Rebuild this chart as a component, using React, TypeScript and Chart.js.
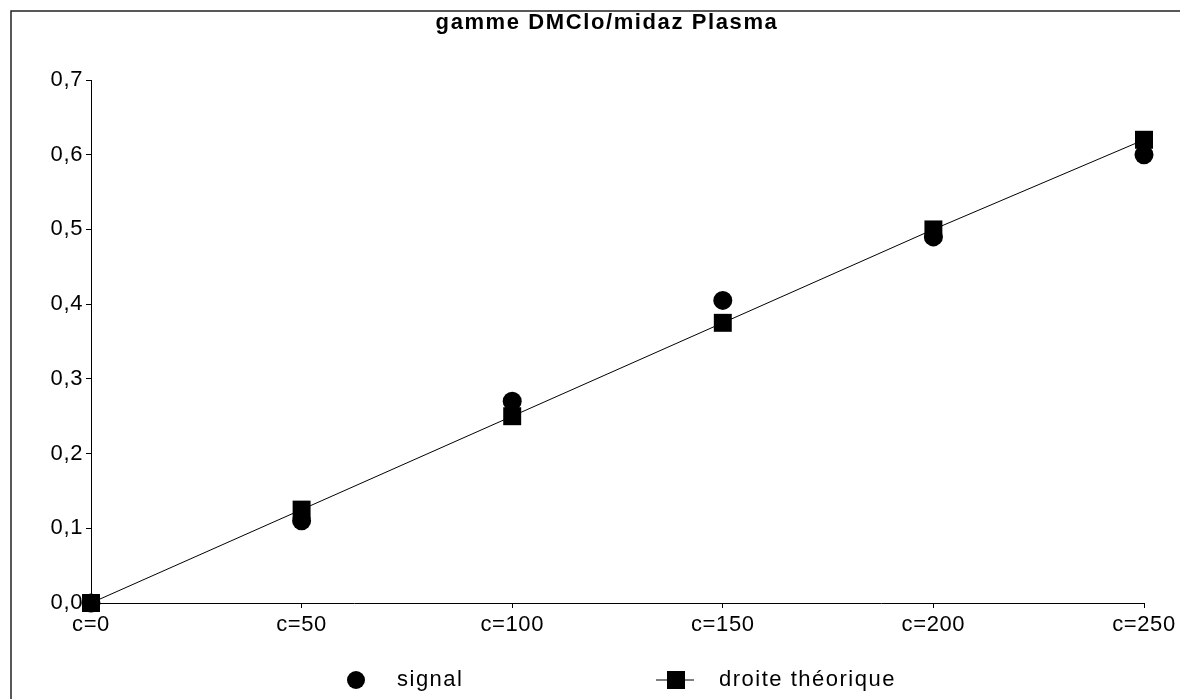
import React, { useEffect, useRef } from "react";
import { Chart, registerables } from "chart.js";

Chart.register(...registerables);

const categories = ["c=0", "c=50", "c=100", "c=150", "c=200", "c=250"];
const signalValues = [0.0, 0.11, 0.27, 0.405, 0.49, 0.6];
const theoryValues = [0.0, 0.125, 0.25, 0.375, 0.5, 0.62];
const yTickMin = 0;
const yTickMax = 0.7;
const yTickStep = 0.1;
const titleText = "gamme DMClo/midaz Plasma";
const FONT = "'Liberation Sans', Arial, sans-serif";

const framePlugin = {
  id: "frame",
  beforeDraw(chart: any) {
    const ctx = chart.ctx;
    ctx.save();
    ctx.fillStyle = "#ffffff";
    ctx.fillRect(0, 0, chart.width, chart.height);
    ctx.strokeStyle = "#222";
    ctx.lineWidth = 1.5;
    ctx.beginPath();
    ctx.moveTo(11, chart.height);
    ctx.lineTo(11, 11);
    ctx.lineTo(chart.width, 11);
    ctx.stroke();
    ctx.restore();
    // slightly wider text, like the original print
    (ctx as any).letterSpacing = "0.6px";
  },
};

const titleLegendPlugin = {
  id: "titleLegend",
  afterDraw(chart: any) {
    const ctx = chart.ctx;
    const cx = chart.width / 2;
    ctx.save();
    // title
    (ctx as any).letterSpacing = "1.6px";
    ctx.fillStyle = "#000";
    ctx.font = `bold 22px ${FONT}`;
    ctx.textAlign = "center";
    ctx.textBaseline = "alphabetic";
    ctx.fillText(titleText, cx + 17, 29);

    // legend
    const cy = chart.height - 19;
    const items = [
      { marker: cx - 234, text: cx - 193 },
      { marker: cx + 86, text: cx + 129 },
    ];
    chart.data.datasets.forEach((ds: any, i: number) => {
      const it = items[i];
      ctx.fillStyle = "#000";
      ctx.strokeStyle = "#000";
      if (ds.showLine !== false) {
        ctx.lineWidth = 1;
        ctx.beginPath();
        ctx.moveTo(it.marker - 20, cy);
        ctx.lineTo(it.marker + 18, cy);
        ctx.stroke();
      }
      if (ds.pointStyle === "circle") {
        ctx.beginPath();
        ctx.arc(it.marker, cy, 9, 0, Math.PI * 2);
        ctx.fill();
      } else {
        ctx.fillRect(it.marker - 9, cy - 9, 18, 18);
      }
      (ctx as any).letterSpacing = "1.5px";
      ctx.font = `22px ${FONT}`;
      ctx.textBaseline = "middle";
      ctx.textAlign = "left";
      ctx.fillText(ds.label, it.text, cy);
    });
    ctx.restore();
  },
};

export default function App() {
  const ref = useRef<HTMLCanvasElement | null>(null);
  useEffect(() => {
    if (!ref.current) return;
    const chart = new Chart(ref.current, {
      type: "line",
      data: {
        labels: categories,
        datasets: [
          {
            label: "signal",
            data: signalValues,
            showLine: false,
            pointStyle: "circle",
            pointRadius: 9.5,
            pointBackgroundColor: "#000",
            pointBorderColor: "#000",
            pointBorderWidth: 0,
            borderColor: "#000",
            clip: false as any,
            order: 2,
          },
          {
            label: "droite théorique",
            data: theoryValues,
            pointStyle: "rect",
            pointRadius: 12.7,
            pointBackgroundColor: "#000",
            pointBorderColor: "#000",
            pointBorderWidth: 0,
            borderColor: "#000",
            borderWidth: 1,
            tension: 0,
            clip: false as any,
            order: 1,
          },
        ],
      },
      plugins: [framePlugin, titleLegendPlugin],
      options: {
        animation: false,
        responsive: true,
        maintainAspectRatio: false,
        layout: { padding: { left: 0, right: 36, top: 80, bottom: 56 } },
        plugins: {
          legend: { display: false },
          tooltip: { enabled: false },
          title: { display: false },
        },
        scales: {
          x: {
            type: "category",
            offset: false,
            grid: {
              drawOnChartArea: false,
              drawTicks: true,
              tickLength: 5,
              color: "#000",
            },
            border: { display: true, color: "#000", width: 1 },
            ticks: {
              color: "#000",
              font: { family: FONT, size: 22 },
              padding: 4,
              maxRotation: 0,
              autoSkip: false,
            },
            afterFit(scale: any) {
              scale.height = 40;
            },
          },
          y: {
            type: "linear",
            min: yTickMin,
            max: yTickMax,
            grid: {
              drawOnChartArea: false,
              drawTicks: true,
              tickLength: 5,
              color: "#000",
            },
            border: { display: true, color: "#000", width: 1 },
            ticks: {
              stepSize: yTickStep,
              color: "#000",
              font: { family: FONT, size: 22 },
              padding: 3,
              callback: (v: any) => Number(v).toFixed(1).replace(".", ","),
            },
            afterFit(scale: any) {
              scale.width = 91;
            },
          },
        },
      },
    });
    return () => chart.destroy();
  }, []);
  return (
    <div style={{ position: "fixed", left: 0, top: 0, width: 1180, height: 699, background: "#fff" }}>
      <canvas ref={ref} />
    </div>
  );
}
